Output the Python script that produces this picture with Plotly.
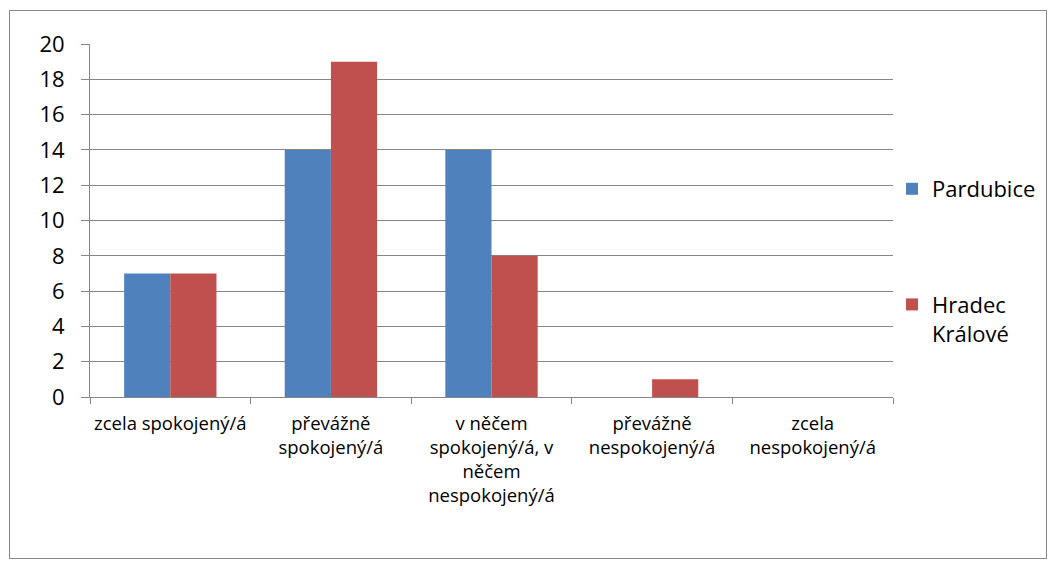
import plotly.graph_objects as go

categories = ["zcela spokojený/á", "převážně<br>spokojený/á",
              "v něčem<br>spokojený/á, v<br>něčem<br>nespokojený/á",
              "převážně<br>nespokojený/á", "zcela<br>nespokojený/á"]
pardubice = [7, 14, 14, 0, 0]
hradec = [7, 19, 8, 1, 0]
y_ticks = list(range(0, 21, 2))

FONT = "Open Sans"
OFF = 8  # page body margin
W, H = 1056 - OFF, 568 - OFF
L, R, T, B = 90 - OFF, 1056 - 893, 44 - OFF, 568 - 397
pw, ph = W - L - R, H - T - B

def px(x):
    return (x - OFF - L) / pw

def py(y):
    return (H - B - (y - OFF)) / ph

fig = go.Figure()
fig.add_trace(go.Bar(x=categories, y=pardubice, name="Pardubice",
                     marker=dict(color="#4F81BD", line=dict(width=0)),
                     legendgroup="a"))
fig.add_trace(go.Bar(x=categories, y=hradec, name="Hradec<br>Králové",
                     marker=dict(color="#C0504D", line=dict(width=0)),
                     legendgroup="b"))

fig.update_layout(
    width=W, height=H,
    margin=dict(l=L, r=R, t=T, b=B),
    paper_bgcolor="white", plot_bgcolor="white",
    barmode="group", bargap=0.425, bargroupgap=0,
    font=dict(family=FONT, color="black"),
    showlegend=True,
    legend=dict(x=px(892), y=py(168), xanchor="left", yanchor="top",
                font=dict(size=22, family=FONT), traceorder="grouped",
                tracegroupgap=84, valign="top", itemwidth=30,
                bgcolor="rgba(0,0,0,0)"),
    xaxis=dict(showgrid=False, showline=True, linecolor="#868686", linewidth=1,
               ticks="outside", tickson="boundaries", ticklen=6, tickcolor="#868686",
               tickfont=dict(size=18.5, family=FONT), tickangle=0,
               ticklabelstandoff=10),
    yaxis=dict(range=[0, 20], tickvals=y_ticks, showgrid=True, gridcolor="#868686",
               gridwidth=1, showline=True, linecolor="#868686", linewidth=1,
               ticks="outside", ticklen=8, tickcolor="#868686",
               tickfont=dict(size=22, family=FONT), ticklabelstandoff=12,
               zeroline=False),
    shapes=[dict(type="rect", xref="paper", yref="paper",
                 x0=px(9.5), x1=px(1046.5), y0=py(558.5), y1=py(10.5),
                 line=dict(color="#868686", width=1), fillcolor="rgba(0,0,0,0)",
                 layer="below")],
)

fig.write_html("out.html")
